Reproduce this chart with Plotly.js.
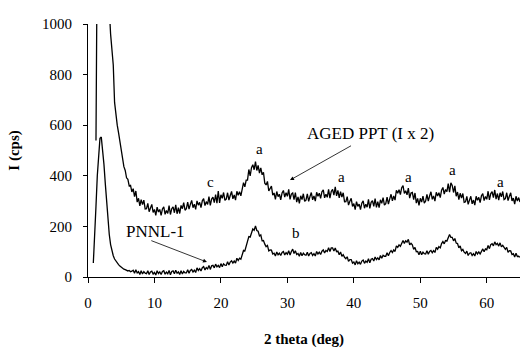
<!DOCTYPE html>
<html>
<head>
<meta charset="utf-8">
<script src="https://cdn.plot.ly/plotly-3.0.1.min.js"></script>
<style>html,body{margin:0;padding:0;background:#fff;}#chart{width:520px;height:348px;}</style>
</head>
<body>
<div id="chart"></div>
<script>
// Scan grid (2 theta, deg): start and step of the diffractometer scan
const scanStart = 0.8;
const scanStep = 0.2;

// PNNL-1 intensity (cps), one value per scan step
const pnnl1 = [
  55, 150, 280, 400, 495, 548, 553, 505, 445, 370,
  298, 228, 168, 128, 102, 84, 71, 62, 56, 49,
  43, 38, 36, 31, 29, 27, 24, 26, 21, 23,
  27, 15, 29, 16, 21, 10, 25, 12, 21, 15,
  13, 25, 10, 20, 23, 12, 18, 8, 25, 14,
  20, 10, 22, 25, 11, 19, 13, 26, 9, 22,
  24, 13, 27, 15, 20, 10, 25, 12, 22, 16,
  16, 29, 15, 26, 30, 20, 27, 18, 36, 26,
  33, 24, 37, 41, 28, 37, 32, 46, 30, 44,
  46, 36, 51, 40, 46, 37, 53, 41, 52, 47,
  46, 60, 47, 59, 64, 55, 63, 55, 74, 65,
  74, 70, 90, 105, 103, 125, 135, 160, 158, 178,
  190, 185, 202, 184, 181, 162, 166, 143, 144, 130,
  120, 125, 103, 107, 106, 91, 94, 83, 99, 88,
  94, 85, 97, 101, 87, 96, 90, 104, 87, 101,
  110, 93, 104, 89, 93, 82, 97, 84, 94, 88,
  86, 98, 83, 93, 96, 85, 92, 83, 101, 91,
  98, 89, 102, 107, 95, 105, 101, 116, 101, 115,
  115, 103, 115, 100, 102, 88, 99, 82, 88, 78,
  72, 80, 62, 69, 69, 55, 59, 48, 64, 52,
  59, 50, 63, 67, 54, 63, 58, 72, 56, 70,
  73, 63, 79, 69, 76, 68, 85, 74, 86, 82,
  82, 96, 84, 97, 104, 97, 107, 101, 123, 117,
  127, 121, 137, 144, 133, 143, 138, 149, 127, 133,
  127, 109, 117, 100, 101, 88, 102, 88, 98, 92,
  91, 104, 90, 101, 105, 96, 104, 97, 117, 110,
  120, 115, 132, 140, 131, 144, 142, 158, 168, 157,
  157, 143, 152, 134, 132, 115, 123, 104, 109, 98,
  93, 102, 85, 94, 96, 85, 92, 83, 101, 91,
  99, 91, 105, 111, 100, 111, 108, 125, 112, 128,
  132, 123, 139, 128, 133, 122, 135, 119, 125, 115,
  109, 117, 98, 104, 103, 89, 92, 79, 94, 81,
  82, 78
];

// AGED PPT intensity (cps, I x 2), one value per scan step (null = not scanned)
const agedPpt = [
  null, null, 540, 1800, 2600, 3000, 2900, 2500, 2000, 1600,
  1400, 1220, 1060, 960, 900, 838, 690, 630, 600, 570,
  535, 498, 478, 436, 421, 392, 386, 360, 362, 336,
  349, 318, 340, 296, 311, 281, 306, 286, 304, 269,
  270, 291, 258, 274, 287, 255, 267, 244, 276, 257,
  267, 244, 269, 277, 248, 263, 251, 282, 247, 270,
  277, 254, 285, 250, 274, 251, 283, 270, 294, 264,
  270, 296, 268, 287, 303, 274, 288, 267, 301, 284,
  295, 274, 301, 310, 282, 298, 287, 318, 283, 308,
  316, 294, 326, 292, 340, 293, 325, 311, 334, 303,
  308, 333, 304, 322, 338, 309, 324, 304, 339, 323,
  337, 321, 355, 373, 356, 383, 383, 425, 400, 432,
  444, 424, 456, 421, 441, 411, 431, 404, 414, 371,
  364, 378, 340, 350, 359, 324, 332, 307, 338, 318,
  327, 305, 332, 342, 316, 333, 319, 346, 307, 328,
  332, 306, 334, 296, 317, 291, 321, 306, 329, 299,
  304, 329, 299, 318, 334, 305, 320, 300, 335, 319,
  331, 311, 337, 344, 313, 327, 315, 346, 312, 338,
  346, 324, 356, 321, 342, 313, 337, 316, 333, 297,
  298, 318, 284, 299, 311, 279, 290, 266, 298, 279,
  288, 266, 292, 301, 272, 288, 276, 307, 271, 295,
  302, 279, 310, 275, 298, 274, 305, 291, 314, 284,
  290, 316, 288, 309, 327, 301, 320, 304, 343, 331,
  345, 326, 353, 361, 330, 341, 325, 351, 312, 332,
  334, 306, 332, 292, 311, 283, 311, 296, 320, 292,
  300, 327, 300, 320, 337, 307, 320, 300, 335, 320,
  333, 314, 343, 354, 328, 346, 337, 369, 335, 372,
  362, 334, 360, 319, 336, 306, 331, 312, 330, 295,
  297, 319, 287, 304, 319, 289, 304, 284, 319, 303,
  315, 294, 321, 330, 302, 318, 307, 339, 305, 330,
  337, 314, 344, 308, 330, 304, 333, 317, 338, 306,
  310, 333, 302, 319, 333, 301, 312, 288, 319, 300,
  314, 296
];

// Axis ticks
const xTicks = [0, 10, 20, 30, 40, 50, 60];
const yTicks = [0, 200, 400, 600, 800, 1000];

// Peak labels: 2theta, intensity, letter
const peakX = [18.5, 25.75, 31.3, 38.1, 48.2, 54.8, 62.0];
const peakY = [375, 506, 174, 395, 395, 423, 375];
const peakText = ['c', 'a', 'b', 'a', 'a', 'a', 'a'];

const twoTheta = pnnl1.map((_, i) => +(scanStart + i * scanStep).toFixed(2));

const serif = 'Liberation Serif, Times New Roman, serif';

const traces = [
  {x: twoTheta, y: pnnl1, type: 'scatter', mode: 'lines', name: 'PNNL-1',
   line: {color: '#000', width: 1.3}, connectgaps: false},
  {x: twoTheta, y: agedPpt, type: 'scatter', mode: 'lines', name: 'AGED PPT (I x 2)',
   line: {color: '#000', width: 1.3}, connectgaps: false}
];

const annotations = peakText.map((t, i) => ({
  x: peakX[i], y: peakY[i], xref: 'x', yref: 'y', text: t, showarrow: false,
  font: {family: serif, size: 15, color: '#000'}
}));

annotations.push(
  {x: 10.1, y: 178, xref: 'x', yref: 'y', text: 'PNNL-1', showarrow: false,
   font: {family: serif, size: 17, color: '#000'}},
  {x: 17.9, y: 59, xref: 'x', yref: 'y', ax: 9.3, ay: 146, axref: 'x', ayref: 'y',
   text: '', showarrow: true, arrowhead: 2, arrowsize: 1, arrowwidth: 0.8, arrowcolor: '#000'},
  {x: 42.5, y: 569, xref: 'x', yref: 'y', text: 'AGED PPT (I x 2)', showarrow: false,
   font: {family: serif, size: 17, color: '#000'}},
  {x: 30.4, y: 383, xref: 'x', yref: 'y', ax: 39.8, ay: 522, axref: 'x', ayref: 'y',
   text: '', showarrow: true, arrowhead: 2, arrowsize: 1, arrowwidth: 0.8, arrowcolor: '#000'}
);

const layout = {
  width: 520, height: 348,
  margin: {l: 88, r: 0, t: 24, b: 71, pad: 0},
  paper_bgcolor: '#fff', plot_bgcolor: '#fff',
  showlegend: false,
  font: {family: serif, size: 15, color: '#000'},
  xaxis: {
    range: [0, 65], tickvals: xTicks, ticktext: xTicks.map(String),
    ticks: 'outside', ticklen: 5, tickwidth: 1, tickcolor: '#000',
    showline: true, linecolor: '#000', linewidth: 1,
    showgrid: false, zeroline: false, ticklabelstandoff: 7,
    tickfont: {family: serif, size: 15, color: '#000'},
    title: {text: '<b>2 theta (deg)</b>', font: {family: serif, size: 15, color: '#000'}, standoff: 25}
  },
  yaxis: {
    range: [0, 1000], tickvals: yTicks, ticktext: yTicks.map(String),
    ticks: 'outside', ticklen: 4, tickwidth: 1, tickcolor: '#000',
    showline: true, linecolor: '#000', linewidth: 1,
    showgrid: false, zeroline: false, ticklabelstandoff: 8,
    tickfont: {family: serif, size: 15, color: '#000'},
    title: {text: '<b>I (cps)</b>', font: {family: serif, size: 15, color: '#000'}, standoff: 18}
  },
  annotations: annotations
};

Plotly.newPlot('chart', traces, layout, {staticPlot: true, displayModeBar: false});
</script>
</body>
</html>
